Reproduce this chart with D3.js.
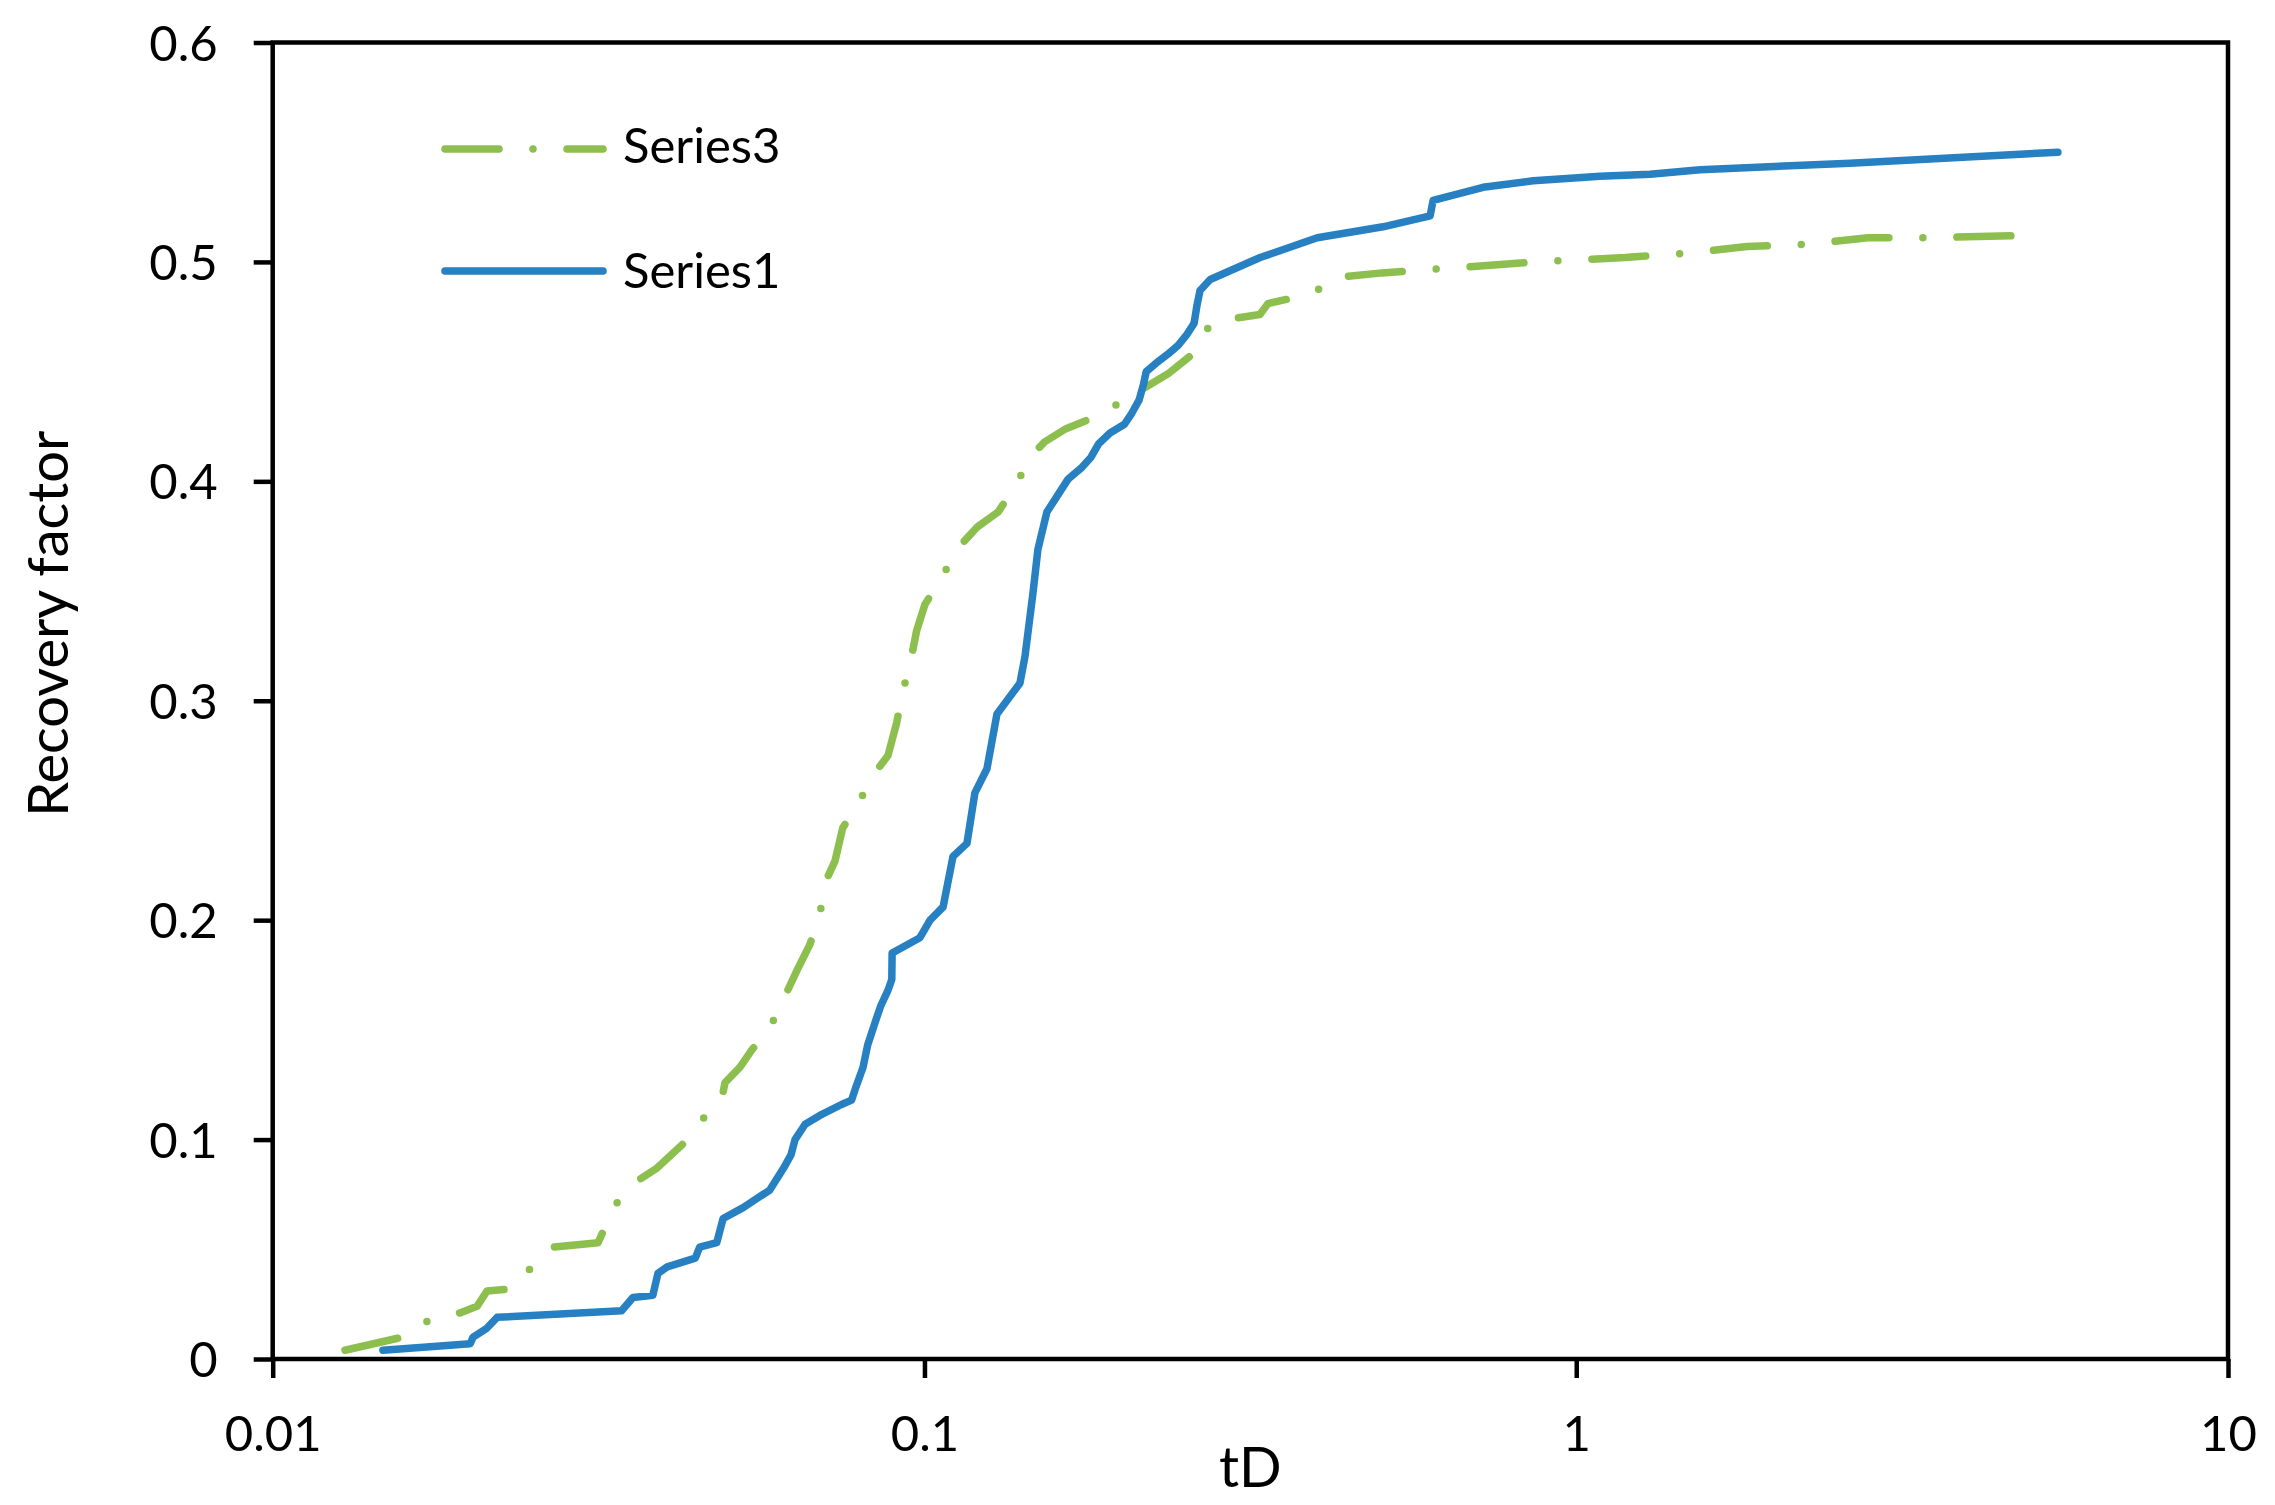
<!DOCTYPE html>
<html>
<head>
<meta charset="utf-8">
<script src="https://cdn.jsdelivr.net/npm/d3@7"></script>
<style>
  html, body { margin: 0; padding: 0; background: #fff; }
  svg { display: block; }
  text { font-family: Lato, "Open Sans", sans-serif; fill: #000; }
</style>
</head>
<body>
<svg id="chart" width="2275" height="1505"></svg>
<script>
// ---- data ----
const xTickValues = [0.01, 0.1, 1, 10];
const xTickLabels = ["0.01", "0.1", "1", "10"];
const yTickValues = [0, 0.1, 0.2, 0.3, 0.4, 0.5, 0.6];
const yTickLabels = ["0", "0.1", "0.2", "0.3", "0.4", "0.5", "0.6"];
const xTitle = "tD";
const yTitle = "Recovery factor";
const seriesNames = ["Series3", "Series1"];

const series1_tD = [0.01476, 0.0201, 0.0203, 0.0213, 0.0221, 0.0343, 0.0357, 0.0383, 0.0390, 0.0403,
  0.0445, 0.0452, 0.0480, 0.0491, 0.0527, 0.0579, 0.0608, 0.0624, 0.0633, 0.0656,
  0.0691, 0.0746, 0.0773, 0.0785, 0.0805, 0.0818, 0.0839, 0.0857, 0.0879, 0.0891,
  0.0892, 0.0917, 0.0984, 0.1020, 0.1068, 0.1106, 0.1162, 0.1195, 0.1247, 0.1292,
  0.1401, 0.1426, 0.1467, 0.1493, 0.1541, 0.1661, 0.1739, 0.1801, 0.1849, 0.1926,
  0.2027, 0.2080, 0.2134, 0.2167, 0.2189, 0.2270, 0.2364, 0.2450, 0.2528, 0.2592,
  0.2618, 0.2647, 0.2744, 0.3273, 0.4005, 0.5053, 0.5968, 0.6031, 0.7195, 0.859,
  1.088, 1.298, 1.549, 2.630, 5.483];
const series1_RF = [0.004, 0.007, 0.010, 0.014, 0.019, 0.022, 0.028, 0.029, 0.039, 0.042,
  0.046, 0.051, 0.053, 0.064, 0.069, 0.077, 0.087, 0.093, 0.100, 0.107,
  0.111, 0.116, 0.118, 0.124, 0.133, 0.143, 0.153, 0.161, 0.168, 0.173,
  0.185, 0.187, 0.192, 0.200, 0.206, 0.229, 0.235, 0.258, 0.269, 0.294,
  0.308, 0.320, 0.349, 0.369, 0.386, 0.401, 0.406, 0.411, 0.417, 0.422,
  0.426, 0.431, 0.437, 0.444, 0.450, 0.454, 0.458, 0.462, 0.467, 0.472,
  0.480, 0.487, 0.492, 0.502, 0.511, 0.516, 0.521, 0.528, 0.534, 0.537,
  0.539, 0.540, 0.542, 0.545, 0.550];

const series3_tD = [0.01291, 0.01584, 0.01743, 0.01938, 0.02058, 0.02132, 0.02329, 0.02499, 0.02692, 0.03156,
  0.03235, 0.03387, 0.03661, 0.03887, 0.04261, 0.04557, 0.04891, 0.04943, 0.05212, 0.05438,
  0.05772, 0.06077, 0.06396, 0.06673, 0.06914, 0.07037, 0.07291, 0.07491, 0.07943, 0.08337,
  0.08790, 0.09065, 0.09260, 0.09524, 0.09728, 0.1002, 0.1063, 0.1121, 0.1203, 0.1297,
  0.1380, 0.1452, 0.1529, 0.1649, 0.1781, 0.1974, 0.2187, 0.2364, 0.2554, 0.2685,
  0.2791, 0.3271, 0.3365, 0.3728, 0.4159, 0.4295, 0.5032, 0.6288, 0.8645, 1.188,
  1.478, 1.828, 2.259, 2.802, 3.464, 4.795];
const series3_RF = [0.004, 0.010, 0.018, 0.021, 0.024, 0.031, 0.032, 0.042, 0.051, 0.053,
  0.060, 0.072, 0.082, 0.087, 0.098, 0.109, 0.119, 0.126, 0.133, 0.141,
  0.150, 0.164, 0.178, 0.189, 0.203, 0.217, 0.227, 0.242, 0.254, 0.266,
  0.275, 0.290, 0.304, 0.318, 0.332, 0.344, 0.356, 0.369, 0.379, 0.386,
  0.398, 0.411, 0.418, 0.424, 0.428, 0.435, 0.443, 0.449, 0.457, 0.468,
  0.473, 0.476, 0.481, 0.484, 0.489, 0.493, 0.495, 0.497, 0.500, 0.502,
  0.504, 0.507, 0.508, 0.511, 0.511, 0.512];

// ---- layout ----
const W = 2275, H = 1505;
const plot = { left: 272.7, right: 2228, top: 42.5, bottom: 1359 };
const blue = "#2680c2", green = "#8cbf4e";
const lineW = 7.5;
const dashPattern = "54 34 0 34";

const svg = d3.select("#chart");
svg.append("rect").attr("width", W).attr("height", H).attr("fill", "#fff");

const x = d3.scaleLog().domain([0.01, 10]).range([plot.left, plot.right]);
const y = d3.scaleLinear().domain([0, 0.6]).range([plot.bottom, plot.top]);

// axes
const xAxis = d3.axisBottom(x).tickValues(xTickValues)
  .tickFormat((d, i) => xTickLabels[i]).tickSizeInner(19).tickSizeOuter(0).tickPadding(38);
const yAxis = d3.axisLeft(y).tickValues(yTickValues)
  .tickFormat((d, i) => yTickLabels[i]).tickSizeInner(19).tickSizeOuter(0).tickPadding(36);

const gx = svg.append("g").attr("transform", `translate(0,${plot.bottom})`).call(xAxis);
const gy = svg.append("g").attr("transform", `translate(${plot.left},0)`).call(yAxis);
[gx, gy].forEach(g => {
  g.select(".domain").remove();
  g.selectAll(".tick line").attr("stroke", "#000").attr("stroke-width", 4.5);
  g.selectAll(".tick text").attr("font-size", 49).attr("font-family", "Lato, sans-serif").attr("fill", "#000");
});
gy.selectAll(".tick text").attr("dy", "0.36em");
gx.selectAll(".tick text").attr("dy", "0.71em");

// frame
svg.append("rect")
  .attr("x", plot.left).attr("y", plot.top)
  .attr("width", plot.right - plot.left).attr("height", plot.bottom - plot.top)
  .attr("fill", "none").attr("stroke", "#000").attr("stroke-width", 4.5);

// series
const line = d3.line().x(d => x(d[0])).y(d => y(d[1])).curve(d3.curveLinear);
const s3 = series3_tD.map((t, i) => [t, series3_RF[i]]);
const s1 = series1_tD.map((t, i) => [t, series1_RF[i]]);

svg.append("path").datum(s3).attr("d", line)
  .attr("fill", "none").attr("stroke", green).attr("stroke-width", lineW)
  .attr("stroke-linecap", "round").attr("stroke-linejoin", "round")
  .attr("stroke-dasharray", dashPattern);

svg.append("path").datum(s1).attr("d", line)
  .attr("fill", "none").attr("stroke", blue).attr("stroke-width", lineW)
  .attr("stroke-linecap", "round").attr("stroke-linejoin", "round");

// legend
const legend = svg.append("g");
const legendItems = [
  { name: seriesNames[0], color: green, dash: dashPattern, y: 149, ty: 163 },
  { name: seriesNames[1], color: blue, dash: null, y: 271, ty: 288 }
];
legendItems.forEach(it => {
  const l = legend.append("line")
    .attr("x1", 445).attr("x2", 603).attr("y1", it.y).attr("y2", it.y)
    .attr("stroke", it.color).attr("stroke-width", lineW).attr("stroke-linecap", "round");
  if (it.dash) l.attr("stroke-dasharray", it.dash);
  legend.append("text").attr("x", 623).attr("y", it.ty)
    .attr("font-size", 49).text(it.name);
});

// axis titles
svg.append("text").attr("x", (plot.left + plot.right) / 2).attr("y", 1487)
  .attr("text-anchor", "middle").attr("font-size", 56).text(xTitle);
svg.append("text").attr("transform", `translate(68,${(plot.top + plot.bottom) / 2 - 77}) rotate(-90)`)
  .attr("text-anchor", "middle").attr("font-size", 56).text(yTitle);
</script>
</body>
</html>
